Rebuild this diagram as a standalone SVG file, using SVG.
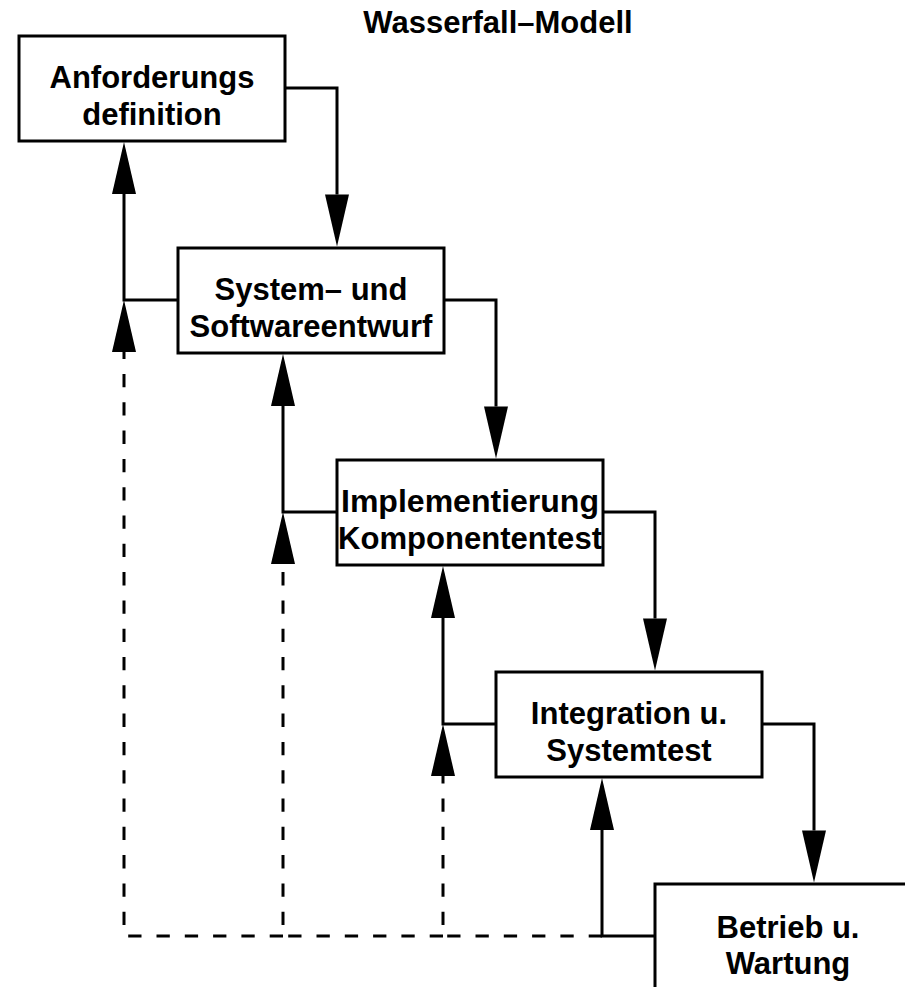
<svg xmlns="http://www.w3.org/2000/svg" width="905" height="987" viewBox="0 0 905 987">
<style>
.box{fill:#fff;stroke:#000;stroke-width:3}
.t{font-family:"Liberation Sans",Arial,sans-serif;font-weight:bold;font-size:31px;text-anchor:middle;fill:#000}
.c{fill:none;stroke:#000;stroke-width:3}
.d{fill:none;stroke:#000;stroke-width:3;stroke-dasharray:13.3 15}
</style>
<defs>
<marker id="ah" markerUnits="userSpaceOnUse" markerWidth="52" markerHeight="24" viewBox="0 0 52 24" refX="0" refY="12" orient="auto" overflow="visible">
<path d="M0,0 L52,12 L0,24 Z" fill="#000" stroke="none"/>
</marker>
</defs>
<rect width="905" height="987" fill="#fff"/>
<text class="t" x="498" y="33">Wasserfall–Modell</text>
<g id="connectors">
<path class="c" d="M285,88 H337 V194.5" marker-end="url(#ah)"/>
<path class="c" d="M444,300 H496 V406.5" marker-end="url(#ah)"/>
<path class="c" d="M603,512 H655 V618.5" marker-end="url(#ah)"/>
<path class="c" d="M762,724 H814 V830.5" marker-end="url(#ah)"/>
<path class="c" d="M178,300 H124 V194" marker-end="url(#ah)"/>
<path class="c" d="M337,512 H283 V406" marker-end="url(#ah)"/>
<path class="c" d="M496,724 H443 V618" marker-end="url(#ah)"/>
<path class="c" d="M655,936 H602 V830" marker-end="url(#ah)"/>
<path class="d" d="M124,925 V352" marker-end="url(#ah)"/>
<path class="d" d="M283,925 V564" marker-end="url(#ah)"/>
<path class="d" d="M443,925 V776" marker-end="url(#ah)"/>
<path class="d" d="M283,936 H124"/>
<path class="d" d="M443,936 H283"/>
<path class="d" d="M602,936 H443"/>
</g>
<g id="n1"><rect class="box" x="19" y="36" width="266" height="105"/>
<text class="t" x="152" y="88">Anforderungs</text><text class="t" x="152" y="125">definition</text></g>
<g id="n2"><rect class="box" x="178" y="248" width="266" height="105"/>
<text class="t" x="311" y="300">System– und</text><text class="t" x="311" y="337">Softwareentwurf</text></g>
<g id="n3"><rect class="box" x="337" y="460" width="266" height="105"/>
<text class="t" x="470" y="512" textLength="258" lengthAdjust="spacingAndGlyphs">Implementierung</text><text class="t" x="470" y="549" textLength="264" lengthAdjust="spacingAndGlyphs">Komponententest</text></g>
<g id="n4"><rect class="box" x="496" y="672" width="266" height="105"/>
<text class="t" x="629" y="724">Integration u.</text><text class="t" x="629" y="761">Systemtest</text></g>
<g id="n5"><rect class="box" x="655" y="884" width="266" height="105"/>
<text class="t" x="788" y="938">Betrieb u.</text><text class="t" x="788" y="974">Wartung</text></g>
</svg>
